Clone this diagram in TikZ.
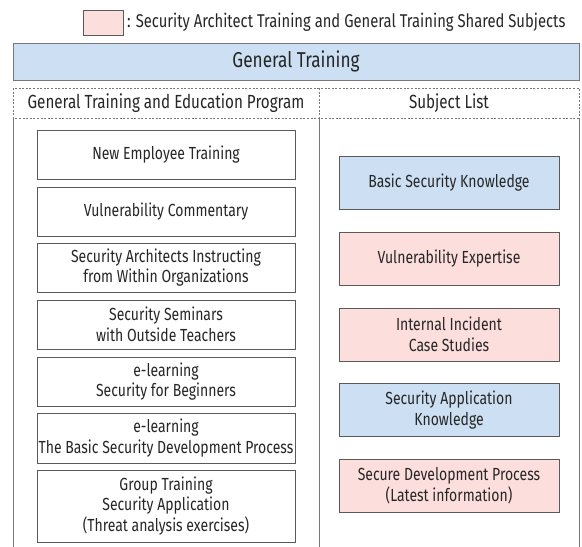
\documentclass[tikz,border=0pt]{standalone}
\usepackage{fontspec}
\setmainfont{Fira Sans}[FakeStretch=0.80]
\definecolor{bluefill}{RGB}{205,224,243}
\definecolor{pinkfill}{RGB}{252,222,220}
\definecolor{edge}{RGB}{90,90,90}
\definecolor{frame}{RGB}{120,120,120}
\begin{document}
\begin{tikzpicture}[x=1pt,y=-1pt,
  every node/.style={inner sep=0pt,outer sep=0pt},
  body/.style={font=\fontsize{17.5}{20.5}\selectfont,align=center,text=black!85},
  lbox/.style={body,draw=edge,line width=0.8pt,fill=white,minimum width=258pt},
  rbox/.style={body,draw=edge,line width=0.8pt,minimum width=220pt,minimum height=53pt},
  dashline/.style={draw=frame,line width=0.7pt,dash pattern=on 2pt off 1.6pt},
  solidline/.style={draw=frame,line width=0.9pt}]
\useasboundingbox (0,0) rectangle (582,547);
% legend
\node[draw=edge,fill=pinkfill,line width=0.7pt,minimum width=40pt,minimum height=25pt] (legbox) at (103,22.5) {};
\node[anchor=west,font=\fontsize{18.5}{20}\selectfont,text=black!85] (legtext) at (127,22.5) {: Security Architect Training and General Training Shared Subjects};
% banner
\node[draw=frame,fill=bluefill,line width=0.9pt,minimum width=566pt,minimum height=37pt,font=\fontsize{21.5}{23}\selectfont,text=black!85] (banner) at (296,61.5) {General Training};
% header row
\draw[dashline] (13,88) rectangle (579,118);
\draw[dashline] (319,88) -- (319,118);
\node[font=\fontsize{19}{21}\selectfont,text=black!85] (hleft) at (166,103) {General Training and Education Program};
\node[font=\fontsize{19}{21}\selectfont,text=black!85] (hright) at (449,103) {Subject List};
% frame
\draw[solidline] (13,118) -- (13,547);
\draw[solidline] (319,118) -- (319,547);
\draw[solidline] (579,118) -- (579,547);
% left column
\node[lbox,minimum height=49pt] (l1) at (166,154.5) {New Employee Training};
\node[lbox,minimum height=49pt] (l2) at (166,211.5) {Vulnerability Commentary};
\node[lbox,minimum height=49pt] (l3) at (166,267.5) {Security Architects Instructing\\from Within Organizations};
\node[lbox,minimum height=49pt] (l4) at (166,324.5) {Security Seminars\\with Outside Teachers};
\node[lbox,minimum height=49pt] (l5) at (166,381.5) {e-learning\\Security for Beginners};
\node[lbox,minimum height=50pt] (l6) at (166,438) {e-learning\\The Basic Security Development Process};
\node[lbox,minimum height=72pt] (l7) at (166,506) {Group Training\\Security Application\\(Threat analysis exercises)};
% right column
\node[rbox,fill=bluefill] (r1) at (449,183) {Basic Security Knowledge};
\node[rbox,fill=pinkfill] (r2) at (449,258.5) {Vulnerability Expertise};
\node[rbox,fill=pinkfill] (r3) at (449,334.5) {Internal Incident\\Case Studies};
\node[rbox,fill=bluefill] (r4) at (449,410) {Security Application\\Knowledge};
\node[rbox,fill=pinkfill] (r5) at (449,485.5) {Secure Development Process\\(Latest information)};
\end{tikzpicture}
\end{document}
